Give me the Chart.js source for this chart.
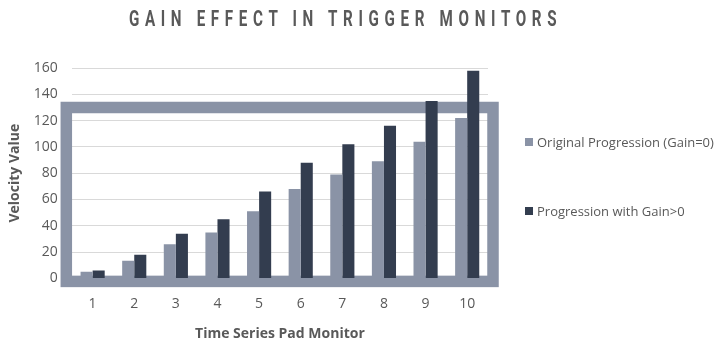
<!DOCTYPE html>
<html>
<head>
<meta charset="utf-8">
<script src="https://cdn.jsdelivr.net/npm/chart.js@4"></script>
<style>
  html, body { margin: 0; padding: 0; background: #fff; }
  #wrap { position: relative; width: 728px; height: 339px; }
  #title {
    position: absolute; left: 0; top: 6px; width: 693px; text-align: center;
    font-family: Roboto, sans-serif; font-weight: 700; font-size: 22px;
    letter-spacing: 8.2px; color: #595959;
    transform: scaleX(0.69); transform-origin: 343.5px 0;
  }
  #legend { position: absolute; left: 525px; top: 0; font-family: "Open Sans", sans-serif; font-size: 13px; color: #595959; }
  .item { position: absolute; left: 0; white-space: nowrap; display: flex; align-items: center; }
  .swatch { width: 8px; height: 8px; margin-right: 4px; }
</style>
</head>
<body>
<div id="wrap">
  <canvas id="chart" width="728" height="339"></canvas>
  <div id="title">GAIN EFFECT IN TRIGGER MONITORS</div>
  <div id="legend"></div>
</div>
<script>
const pads = ['1', '2', '3', '4', '5', '6', '7', '8', '9', '10'];
const originalValues = [5, 13.5, 26, 35, 51, 68, 79, 89, 104, 122];
const gainValues = [6, 18, 34, 45, 66, 88, 102, 116, 135, 158];
const yTicks = [0, 20, 40, 60, 80, 100, 120, 140, 160];

const LIGHT = '#8A93A6';
const DARK = '#333D4F';
const TEXT = '#595959';

// thick frame around the plot, drawn under the bars but over the grid
const plotFrame = {
  id: 'plotFrame',
  beforeDatasetsDraw(chart) {
    const { ctx, chartArea: a } = chart;
    ctx.save();
    ctx.strokeStyle = LIGHT;
    ctx.lineWidth = 11.5;
    ctx.strokeRect(a.left - 5.5, a.top + 39.5, (a.right + 5) - (a.left - 5.5), (a.bottom + 3) - (a.top + 39.5));
    ctx.restore();
  }
};

const legendItems = [
  { label: 'Original Progression (Gain=0)', color: LIGHT, y: 142 },
  { label: 'Progression with Gain>0', color: DARK, y: 211 }
];
const legendEl = document.getElementById('legend');
legendItems.forEach((it) => {
  const d = document.createElement('div');
  d.className = 'item';
  d.style.top = (it.y - 9) + 'px';
  d.innerHTML = `<span class="swatch" style="background:${it.color}"></span><span>${it.label}</span>`;
  legendEl.appendChild(d);
});

const ctx = document.getElementById('chart').getContext('2d');
new Chart(ctx, {
  type: 'bar',
  data: {
    labels: pads,
    datasets: [
      { label: 'Original Progression (Gain=0)', data: originalValues, backgroundColor: LIGHT, categoryPercentage: 0.58, barPercentage: 1 },
      { label: 'Progression with Gain>0', data: gainValues, backgroundColor: DARK, categoryPercentage: 0.58, barPercentage: 1 }
    ]
  },
  plugins: [plotFrame],
  options: {
    responsive: false,
    animation: false,
    layout: { padding: { top: 68, left: 7, right: 240, bottom: -3 } },
    plugins: { legend: { display: false }, tooltip: { enabled: false } },
    scales: {
      x: {
        grid: { display: false, drawTicks: false },
        border: { display: false },
        ticks: { color: TEXT, font: { family: 'Open Sans', size: 14 }, padding: 17 },
        title: { display: true, text: 'Time Series Pad Monitor', color: TEXT, font: { family: 'Open Sans', size: 14, weight: 'bold' }, padding: { top: -4, bottom: 0 } }
      },
      y: {
        min: 0,
        max: 160,
        afterBuildTicks: (axis) => { axis.ticks = yTicks.map((v) => ({ value: v })); },
        grid: { color: '#D9D9D9', drawTicks: false },
        border: { display: false },
        ticks: { color: TEXT, font: { family: 'Open Sans', size: 14 }, padding: 14 },
        title: { display: true, text: 'Velocity Value', color: TEXT, font: { family: 'Open Sans', size: 14, weight: 'bold' }, padding: { top: 0, bottom: -4 } }
      }
    }
  }
});
</script>
</body>
</html>
